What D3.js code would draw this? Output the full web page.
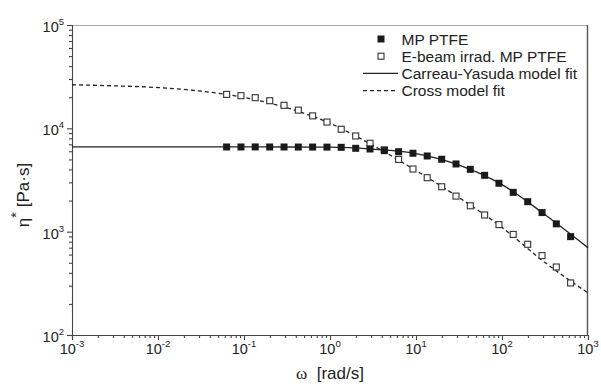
<!DOCTYPE html>
<html>
<head>
<meta charset="utf-8">
<script src="https://cdn.jsdelivr.net/npm/d3@7"></script>
<style>
  body { margin: 0; background: #fff; }
  svg { display: block; font-family: "Liberation Sans", Arial, sans-serif; }
</style>
</head>
<body>
<svg id="chart" width="601" height="384"></svg>
<script>
// angular frequency [rad/s] of the measured points
const omega = [0.0628, 0.0922, 0.135, 0.199, 0.292, 0.428, 0.628, 0.922, 1.35, 1.99,
  2.92, 4.28, 6.28, 9.22, 13.5, 19.9, 29.2, 42.8, 62.8, 92.2, 135, 199, 292, 428, 628];
// complex viscosity [Pa s]
const etaMP = [6600, 6600, 6610, 6600, 6600, 6590, 6590, 6580, 6550, 6410,
  6310, 6080, 5940, 5740, 5400, 5020, 4520, 4010, 3510, 2940, 2400, 1950, 1530, 1190, 895];
const etaEbeam = [21300, 20700, 19800, 18500, 16700, 15000, 13200, 11500, 9800, 8430,
  7170, 6200, 5000, 4040, 3330, 2720, 2210, 1780, 1450, 1170, 941, 755, 586, 455, 319];
// model fit curves
const fitOmega = [0.001, 0.003, 0.01, 0.03, 0.1, 0.3, 1, 3, 10, 30, 100, 300, 1000];
const fitCY = [6620, 6620, 6620, 6615, 6610, 6600, 6570, 6300, 5700, 4480, 2850, 1510, 700];
const fitCross = [26400, 25800, 24800, 23000, 19900, 16000, 11200, 7000, 3900, 2200, 1100, 520, 255];

const xExp = [-3, -2, -1, 0, 1, 2, 3];
const yExp = [2, 3, 4, 5];

const legendItems = [
  { label: 'MP PTFE', type: 'filled' },
  { label: 'E-beam irrad. MP PTFE', type: 'open' },
  { label: 'Carreau-Yasuda model fit', type: 'solid' },
  { label: 'Cross model fit', type: 'dashed' }
];

const svg = d3.select('#chart');
const x = d3.scaleLog().domain([1e-3, 1e3]).range([72, 588]);
const y = d3.scaleLog().domain([1e2, 1e5]).range([335, 25]);
const ink = '#222';

// minor ticks 2..9 per decade
function minors(exps) {
  const out = [];
  for (let i = 0; i < exps.length - 1; i++) {
    for (let m = 2; m <= 9; m++) out.push(m * Math.pow(10, exps[i]));
  }
  return out;
}

// frame: top and right
svg.append('line').attr('x1', 72).attr('x2', 588).attr('y1', 25.5).attr('y2', 25.5)
  .attr('stroke', '#aaa').attr('stroke-width', 1.2);
svg.append('line').attr('x1', 587.5).attr('x2', 587.5).attr('y1', 25).attr('y2', 335)
  .attr('stroke', '#555').attr('stroke-width', 1.4);

// x axis
const gx = svg.append('g').attr('transform', 'translate(0,335)');
gx.call(d3.axisBottom(x).tickValues(xExp.map(e => Math.pow(10, e))).tickSize(5).tickFormat(''));
gx.append('g').call(d3.axisBottom(x).tickValues(minors(xExp)).tickSize(3).tickFormat(''))
  .select('.domain').remove();
gx.selectAll('path, line').attr('stroke', '#444').attr('stroke-width', 1.1);

const xl = svg.append('g').selectAll('text').data(xExp).enter().append('text')
  .attr('x', d => x(Math.pow(10, d)))
  .attr('y', 354)
  .attr('text-anchor', 'middle')
  .attr('font-size', 14.5).attr('fill', ink);
xl.append('tspan').text('10');
xl.append('tspan').attr('font-size', 9.5).attr('dy', -7).text(d => d);

// y axis
const gy = svg.append('g').attr('transform', 'translate(72,0)');
gy.call(d3.axisLeft(y).tickValues(yExp.map(e => Math.pow(10, e))).tickSize(5).tickFormat(''));
gy.append('g').call(d3.axisLeft(y).tickValues(minors(yExp)).tickSize(3).tickFormat(''))
  .select('.domain').remove();
gy.selectAll('path, line').attr('stroke', '#444').attr('stroke-width', 1.1);

const yl = svg.append('g').selectAll('text').data(yExp).enter().append('text')
  .attr('x', 64)
  .attr('y', d => y(Math.pow(10, d)) + 7)
  .attr('text-anchor', 'end')
  .attr('font-size', 14.5).attr('fill', ink);
yl.append('tspan').text('10');
yl.append('tspan').attr('font-size', 9.5).attr('dy', -7).text(d => d);

// axis titles
const xt = svg.append('text').attr('x', 330).attr('y', 379).attr('text-anchor', 'middle')
  .attr('font-size', 17).attr('fill', ink);
xt.append('tspan').attr('font-family', '"Liberation Serif", serif').text('ω');
xt.append('tspan').attr('xml:space', 'preserve').text('  [rad/s]');

const yt = svg.append('text').attr('transform', 'translate(29,195) rotate(-90)')
  .attr('text-anchor', 'middle').attr('font-size', 17).attr('fill', ink);
yt.append('tspan').text('η');
yt.append('tspan').attr('dy', -8).attr('font-size', 14).text('*');
yt.append('tspan').attr('dy', 8).attr('dx', 5).text('[Pa·s]');

// fit curves
const line = d3.line().x(d => x(d[0])).y(d => y(d[1])).curve(d3.curveMonotoneX);
svg.append('path').datum(fitOmega.map((w, i) => [w, fitCY[i]]))
  .attr('d', line).attr('fill', 'none').attr('stroke', ink).attr('stroke-width', 1.3);
svg.append('path').datum(fitOmega.map((w, i) => [w, fitCross[i]]))
  .attr('d', line).attr('fill', 'none').attr('stroke', ink).attr('stroke-width', 1.3)
  .attr('stroke-dasharray', '4,3');

// data points
const s = 7;
svg.append('g').selectAll('rect').data(omega.map((w, i) => [w, etaEbeam[i]])).enter().append('rect')
  .attr('x', d => x(d[0]) - s / 2 + 0.5).attr('y', d => y(d[1]) - s / 2 + 0.5)
  .attr('width', s - 1).attr('height', s - 1)
  .attr('fill', '#fff').attr('stroke', '#333').attr('stroke-width', 1.1);
svg.append('g').selectAll('rect').data(omega.map((w, i) => [w, etaMP[i]])).enter().append('rect')
  .attr('x', d => x(d[0]) - s / 2).attr('y', d => y(d[1]) - s / 2)
  .attr('width', s).attr('height', s)
  .attr('fill', '#1a1a1a');

// legend
const lg = svg.append('g').selectAll('g').data(legendItems).enter().append('g')
  .attr('transform', (d, i) => `translate(0,${39 + i * 17.2})`);
lg.each(function (d) {
  const g = d3.select(this);
  if (d.type === 'filled') {
    g.append('rect').attr('x', 377.5).attr('y', -3.5).attr('width', 7).attr('height', 7).attr('fill', '#1a1a1a');
  } else if (d.type === 'open') {
    g.append('rect').attr('x', 378).attr('y', -3).attr('width', 6).attr('height', 6)
      .attr('fill', '#fff').attr('stroke', '#333').attr('stroke-width', 1.1);
  } else {
    g.append('line').attr('x1', 363).attr('x2', 398).attr('y1', 0).attr('y2', 0)
      .attr('stroke', ink).attr('stroke-width', 1.3)
      .attr('stroke-dasharray', d.type === 'dashed' ? '4,3' : null);
  }
  g.append('text').attr('x', 401.5).attr('y', 5.5).attr('font-size', 15.5).attr('fill', ink).text(d.label);
});
</script>
</body>
</html>
